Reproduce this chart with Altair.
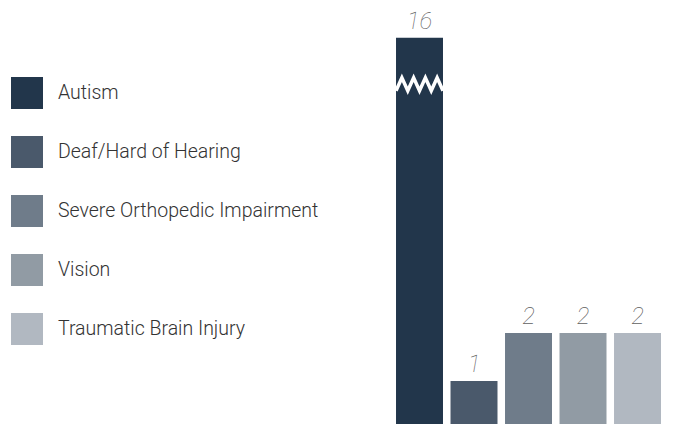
import altair as alt
import pandas as pd

# ---- data ----
categories = ["Autism", "Deaf/Hard of Hearing", "Severe Orthopedic Impairment",
              "Vision", "Traumatic Brain Injury"]
counts = [16, 1, 2, 2, 2]
colors = ["#22364b", "#4a596b", "#6f7c8a", "#919ba4", "#b1b8c1"]

# ---- layout constants (axis break) ----
BREAK_LIMIT = 8          # values above this are drawn with a broken bar
BREAK_DISPLAY = 8.15     # displayed height of a broken bar
ZIG_MID = 7.18           # centre of the zigzag break mark (data units)
ZIG_AMP = 0.135
HALF = 0.431             # bar half width in index units

rows = []
for i, (c, v) in enumerate(zip(categories, counts)):
    shown = BREAK_DISPLAY if v > BREAK_LIMIT else v
    rows.append({"cat": c, "idx": i, "value": v, "shown": shown,
                 "x0": i - HALF, "x1": i + HALF, "label": str(v)})
df = pd.DataFrame(rows)

zig = []
for i, v in enumerate(counts):
    if v > BREAK_LIMIT:
        for k in range(9):
            zig.append({"zx": i - HALF + k * (2 * HALF / 8),
                        "zy": ZIG_MID + (-ZIG_AMP if k % 2 == 0 else ZIG_AMP),
                        "o": k, "cat": categories[i]})
zdf = pd.DataFrame(zig)

xscale = alt.Scale(domain=[-7.55, 4.706], nice=False, zero=False)
yscale = alt.Scale(domain=[0.104, 8.77], nice=False, zero=False)

base = alt.Chart(df)

bars = base.mark_bar(clip=True).encode(
    x=alt.X("x0:Q", scale=xscale, axis=None),
    x2="x1:Q",
    y=alt.Y("shown:Q", scale=yscale, axis=None),
    y2=alt.datum(0),
    color=alt.Color(
        "cat:N",
        scale=alt.Scale(domain=categories, range=colors),
        legend=alt.Legend(
            title=None, orient="none", legendX=3, legendY=69,
            symbolType="square", symbolSize=1024, symbolStrokeWidth=0,
            symbolOpacity=1, rowPadding=27, labelOffset=15,
            labelFontSize=19.5, labelFont="Roboto", labelColor="#333333",
            labelFontWeight=300, padding=0, labelLimit=400,
        ),
    ),
)

labels = base.mark_text(
    baseline="alphabetic", dy=-9, fontSize=24, font="Roboto",
    fontStyle="italic", fontWeight=100, color="#5f5f5f",
).encode(
    x=alt.X("idx:Q", scale=xscale),
    y=alt.Y("shown:Q", scale=yscale),
    text="label:N",
)

zigzag = alt.Chart(zdf).mark_line(color="white", strokeWidth=3.5, clip=True).encode(
    x=alt.X("zx:Q", scale=xscale),
    y=alt.Y("zy:Q", scale=yscale),
    order="o:Q",
    detail="cat:N",
)

chart = alt.layer(bars, zigzag, labels).properties(
    width=668, height=416, padding=0,
    autosize=alt.AutoSizeParams(type="none"),
).configure(background="white").configure_view(stroke=None, strokeWidth=0)

chart.save("out.html", embed_options={"renderer": "svg", "actions": False})
